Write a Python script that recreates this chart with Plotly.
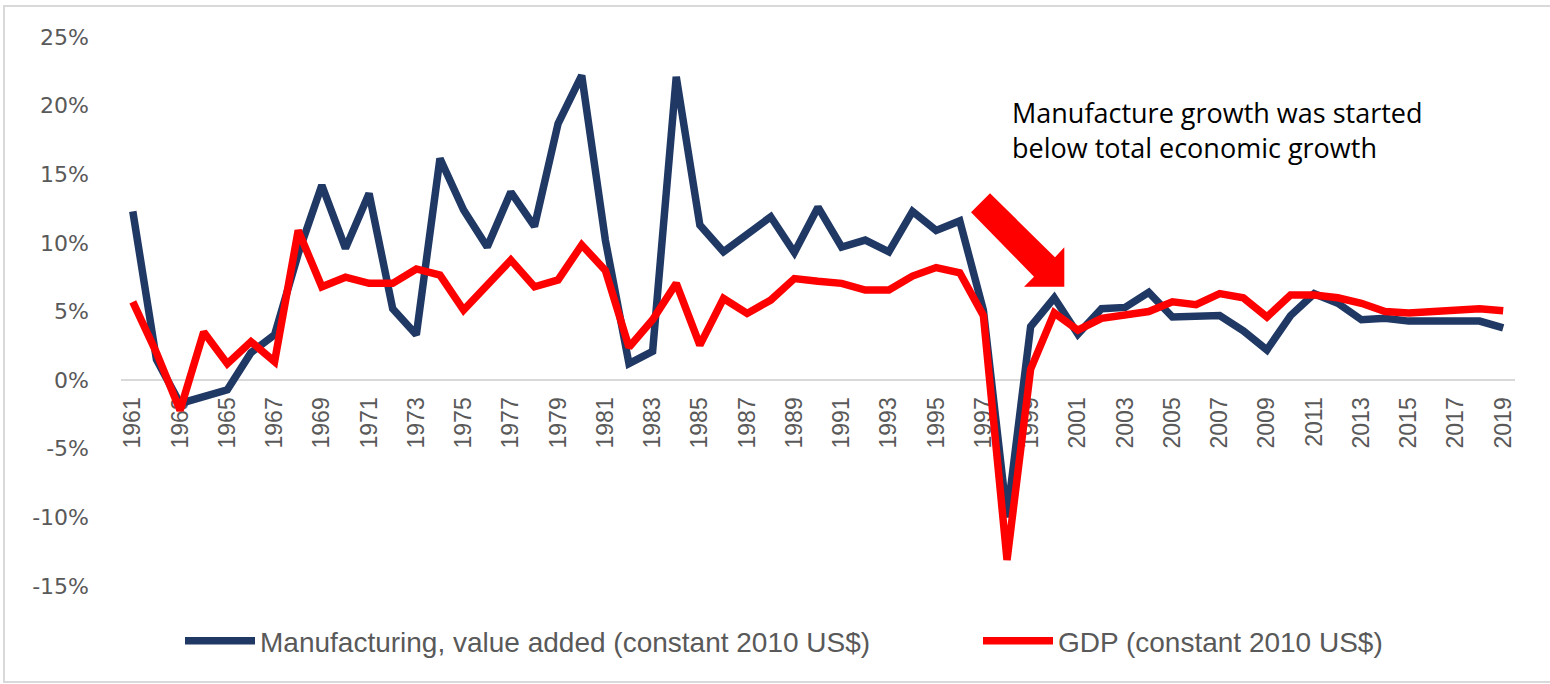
import plotly.graph_objects as go

years = list(range(1961, 2020))
manufacturing = [12.3, 1.5, -1.7, -1.2, -0.7, 2.0, 3.3, 9.2, 14.2, 9.6,
                 13.6, 5.2, 3.3, 16.15, 12.4, 9.7, 13.7, 11.2, 18.7, 22.2,
                 10.2, 1.2, 2.1, 22.1, 11.3, 9.35, 10.7, 11.9, 9.3, 12.6,
                 9.7, 10.2, 9.35, 12.3, 10.9, 11.6, 5.1, -10.0, 3.9, 6.0,
                 3.35, 5.2, 5.3, 6.4, 4.6, 4.6, 4.7, 3.6, 2.2, 4.7,
                 6.3, 5.6, 4.4, 4.5, 4.3, 4.3, 4.3, 4.3, 3.8]
gdp = [5.7, 2.0, -2.2, 3.5, 1.2, 2.8, 1.35, 10.9, 6.8, 7.5,
       7.05, 7.05, 8.1, 7.65, 5.1, 6.9, 8.75, 6.8, 7.3, 9.85,
       8.0, 2.4, 4.4, 7.05, 2.55, 5.95, 4.86, 5.83, 7.4, 7.2,
       7.05, 6.56, 6.56, 7.58, 8.2, 7.82, 4.7, -13.1, 0.8, 4.9,
       3.64, 4.5, 4.74, 5.0, 5.7, 5.5, 6.3, 6.0, 4.6, 6.2,
       6.2, 6.0, 5.6, 5.0, 4.9, 5.0, 5.1, 5.2, 5.05]
x_tick_years = list(range(1961, 2020, 2))
x_tick_labels = [str(y) for y in x_tick_years]
y_tick_vals = [-15, -10, -5, 0, 5, 10, 15, 20, 25]
y_tick_labels = ["-15%", "-10%", "-5%", "0%", "5%", "10%", "15%", "20%", "25%"]
series_names = ["Manufacturing, value added (constant 2010 US$)", "GDP (constant 2010 US$)"]
note_text = "Manufacture growth was started<br>below total economic growth"

W, H = 1550, 684
L, R, T, B = 121, 1515, 37, 586
YMIN, YMAX = -15, 25


def px(x):
    return (x - L) / (R - L)


def py(y):
    return (B - y) / (B - T)


fig = go.Figure()
fig.add_trace(go.Scatter(x=years, y=manufacturing, mode="lines", name=series_names[0],
                         line=dict(color="#203864", width=7.5), legend="legend"))
fig.add_trace(go.Scatter(x=years, y=gdp, mode="lines", name=series_names[1],
                         line=dict(color="#FF0000", width=7.5), legend="legend2"))

arrow_pts = [(990, 193.3), (1055, 257.3), (1064.3, 247.3), (1064.3, 286.7),
             (1024, 286.7), (1034, 276.7), (971, 212.3)]
path = "M " + " L ".join(f"{px(a):.5f},{py(b):.5f}" for a, b in arrow_pts) + " Z"

legend_font = dict(family="Liberation Sans", size=28, color="#595959")

fig.update_layout(
    width=W, height=H,
    margin=dict(l=L, r=W - R, t=T, b=H - B, autoexpand=False),
    paper_bgcolor="white", plot_bgcolor="white",
    showlegend=True,
    legend=dict(orientation="h", x=px(180), xanchor="left", y=py(641), yanchor="middle",
                font=legend_font, itemwidth=70, bgcolor="rgba(0,0,0,0)"),
    legend2=dict(orientation="h", x=px(978), xanchor="left", y=py(641), yanchor="middle",
                 font=legend_font, itemwidth=70, bgcolor="rgba(0,0,0,0)"),
    xaxis=dict(range=[1960.5, 2019.5], tickmode="array", tickvals=x_tick_years,
               ticktext=x_tick_labels, tickangle=-90, anchor="free",
               position=(0 - YMIN) / (YMAX - YMIN), showline=True, linecolor="#D9D9D9",
               linewidth=2, showgrid=False, zeroline=False, ticks="",
               ticklabelstandoff=7, layer="below traces",
               tickfont=dict(family="Liberation Sans", size=23, color="#595959")),
    yaxis=dict(range=[YMIN, YMAX], tickmode="array", tickvals=y_tick_vals,
               ticktext=y_tick_labels, showgrid=False, zeroline=False, showline=False,
               ticks="", ticklabelstandoff=31,
               tickfont=dict(family="DejaVu Sans", size=22, color="#595959")),
    shapes=[
        dict(type="rect", xref="paper", yref="paper", x0=px(4), x1=px(1560), y0=py(682), y1=py(6),
             line=dict(color="#D9D9D9", width=2), fillcolor="rgba(0,0,0,0)", layer="below"),
        dict(type="path", xref="paper", yref="paper", path=path,
             fillcolor="#FF0000", line=dict(width=0), layer="above"),
    ],
    annotations=[
        dict(text=note_text, xref="paper", yref="paper", x=px(1010), y=py(129.5),
             xanchor="left", yanchor="middle", align="left", showarrow=False,
             font=dict(family="Open Sans", size=27, color="black")),
    ],
)

fig.write_html("out.html", config={"displayModeBar": False},
               post_script="document.body.style.margin='0';document.body.style.overflow='hidden';")
